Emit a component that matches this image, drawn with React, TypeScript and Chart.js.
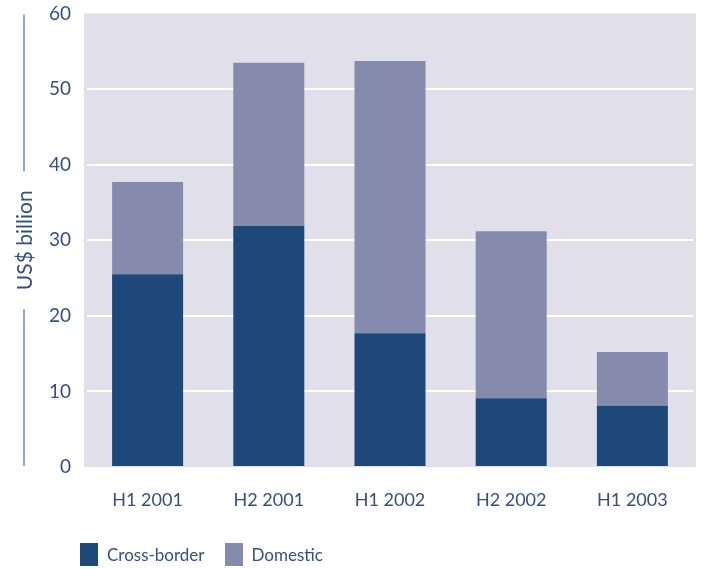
import React, { useEffect, useRef } from "react";
import { Chart, registerables } from "chart.js";

Chart.register(...registerables);

const categories = ["H1 2001", "H2 2001", "H1 2002", "H2 2002", "H1 2003"];
const crossBorder = [25.5, 31.9, 17.7, 9.1, 8.1];
const domestic = [12.2, 21.6, 36.0, 22.1, 7.1];
const seriesLabels = ["Cross-border", "Domestic"];
const seriesColors = ["#1D4879", "#858BAD"];
const yTitle = "US$ billion";

const TEXT = "#34507F";
const FONT_FAMILY = "Lato, 'Open Sans', sans-serif";

const bgPlugin = {
  id: "plotBg",
  beforeDraw(chart: any) {
    const { ctx, chartArea: a } = chart;
    ctx.save();
    ctx.fillStyle = "#E0DFEA";
    ctx.fillRect(a.left - 3, a.top, a.right - a.left + 6, a.bottom - a.top);
    ctx.restore();
  },
};

const yTitlePlugin = {
  id: "yTitleLines",
  afterDraw(chart: any) {
    const { ctx, chartArea: a } = chart;
    const x = 25;
    const cy = (a.top + a.bottom) / 2;
    ctx.save();
    ctx.font = `21px ${FONT_FAMILY}`;
    const w = ctx.measureText(yTitle).width;
    ctx.translate(x, cy);
    ctx.rotate(-Math.PI / 2);
    ctx.fillStyle = TEXT;
    ctx.textAlign = "center";
    ctx.textBaseline = "middle";
    ctx.fillText(yTitle, 0, 0);
    ctx.restore();
    ctx.save();
    ctx.strokeStyle = "#6A89B2";
    ctx.lineWidth = 1.5;
    const gap = 19;
    ctx.beginPath();
    ctx.moveTo(x - 1, a.top + 1);
    ctx.lineTo(x - 1, cy - w / 2 - gap);
    ctx.moveTo(x - 1, cy + w / 2 + gap);
    ctx.lineTo(x - 1, a.bottom - 1);
    ctx.stroke();
    ctx.restore();
  },
};

export default function App() {
  const ref = useRef<HTMLCanvasElement | null>(null);

  useEffect(() => {
    if (!ref.current) return;
    const xFont = { family: FONT_FAMILY, size: 18 };
    const yFont = { family: FONT_FAMILY, size: 19 };
    const chart = new Chart(ref.current, {
      type: "bar",
      data: {
        labels: categories,
        datasets: [
          {
            label: seriesLabels[0],
            data: crossBorder,
            backgroundColor: seriesColors[0],
            categoryPercentage: 1,
            barPercentage: 0.586,
          },
          {
            label: seriesLabels[1],
            data: domestic,
            backgroundColor: seriesColors[1],
            categoryPercentage: 1,
            barPercentage: 0.586,
          },
        ],
      },
      options: {
        responsive: false,
        animation: false,
        layout: { padding: { top: 13.5, right: 9, bottom: 52, left: 0 } },
        plugins: {
          legend: { display: false },
          tooltip: { enabled: false },
        },
        scales: {
          x: {
            stacked: true,
            grid: { display: false },
            border: { display: false },
            ticks: { font: xFont, color: TEXT, padding: 14 },
            afterFit: (s: any) => {
              s.height = 50;
            },
          },
          y: {
            stacked: true,
            min: 0,
            max: 60,
            ticks: { stepSize: 10, font: yFont, color: TEXT, padding: 16 },
            grid: {
              color: (c: any) =>
                c.tick && (c.tick.value === 0 || c.tick.value === 60) ? "rgba(0,0,0,0)" : "#FFFFFF",
              lineWidth: 2,
              drawTicks: false,
            },
            border: { display: false },
            afterFit: (s: any) => {
              s.width = 87;
              s.paddingTop = 0;
              s.paddingBottom = 0;
            },
          },
        },
      },
      plugins: [bgPlugin, yTitlePlugin],
    });
    return () => chart.destroy();
  }, []);

  return (
    <div style={{ position: "absolute", left: 0, top: 0, width: 702, height: 569 }}>
      <canvas ref={ref} width={702} height={569} style={{ display: "block" }} />
      <div
        style={{
          position: "absolute",
          left: 80,
          top: 543,
          height: 23,
          display: "flex",
          alignItems: "center",
          fontFamily: FONT_FAMILY,
          fontSize: 17,
          color: TEXT,
        }}
      >
        {seriesLabels.map((l, i) => (
          <div key={l} style={{ display: "flex", alignItems: "center", marginRight: 20 }}>
            <span style={{ display: "inline-block", width: 18, height: 23, background: seriesColors[i], marginRight: 9 }} />
            <span>{l}</span>
          </div>
        ))}
      </div>
    </div>
  );
}
